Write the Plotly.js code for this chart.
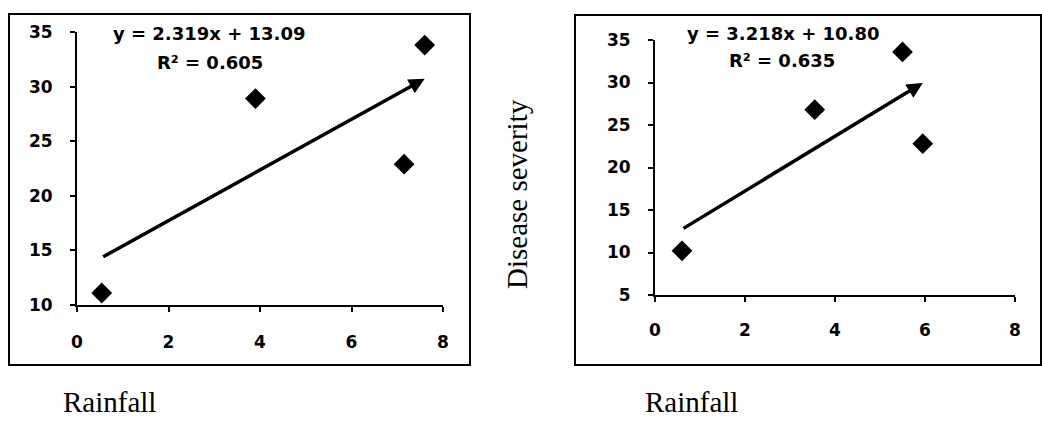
<!DOCTYPE html>
<html>
<head>
<meta charset="utf-8">
<script src="https://cdn.plot.ly/plotly-3.0.1.min.js"></script>
<style>html,body{margin:0;padding:0;background:#fff;}#chart{width:1042px;height:421px;}</style>
</head>
<body>
<div id="chart"></div>
<script>
// ---- data ----
const rainfallLeft = [0.54, 3.9, 7.15, 7.6];
const severityLeft = [11.1, 28.9, 22.9, 33.8];
const rainfallRight = [0.6, 3.55, 5.5, 5.95];
const severityRight = [10.2, 26.8, 33.6, 22.8];
const slopes = [2.319, 3.218];
const intercepts = [13.09, 10.80];
const r2Values = ['0.605', '0.635'];
const xTickVals = [0, 2, 4, 6, 8];
const yTickValsLeft = [10, 15, 20, 25, 30, 35];
const yTickValsRight = [5, 10, 15, 20, 25, 30, 35];
const xLabel = 'Rainfall';
const yLabel = 'Disease severity';

const W = 1042, H = 421;
const px = v => v / W;
const py = v => 1 - v / H;
const bold = v => '<b>' + v + '</b>';

const tickFont = {family: 'DejaVu Sans', size: 17, color: '#000'};
const eqFont = {family: 'DejaVu Sans', size: 18, color: '#000'};
const serifFont = {family: 'Liberation Serif', size: 29, color: '#000'};

function axisBase(vals, extra) {
  return Object.assign({
    showline: true, linecolor: '#000', linewidth: 2,
    ticks: 'outside', ticklen: 5, tickwidth: 2, tickcolor: '#000',
    showgrid: false, zeroline: false, tickfont: tickFont,
    tickmode: 'array', tickvals: vals, ticktext: vals.map(bold),
    fixedrange: true
  }, extra);
}

const markerStyle = {symbol: 'diamond', size: 16, color: '#000'};

const traces = [
  {x: rainfallLeft, y: severityLeft, xaxis: 'x', yaxis: 'y', mode: 'markers',
   type: 'scatter', marker: markerStyle, cliponaxis: false, showlegend: false},
  {x: rainfallRight, y: severityRight, xaxis: 'x2', yaxis: 'y2', mode: 'markers',
   type: 'scatter', marker: markerStyle, cliponaxis: false, showlegend: false}
];

function fitArrow(xs, slope, intercept, xref, yref) {
  const x0 = Math.min(...xs), x1 = Math.max(...xs);
  return {
    x: x1, y: intercept + slope * x1,
    ax: x0, ay: intercept + slope * x0,
    xref: xref, yref: yref, axref: xref, ayref: yref,
    text: '', showarrow: true, arrowhead: 2, arrowsize: 0.9,
    arrowwidth: 3.5, arrowcolor: '#000'
  };
}

function label(text, x, y, font, extra) {
  return Object.assign({text: text, x: px(x), y: py(y), xref: 'paper', yref: 'paper',
    xanchor: 'center', yanchor: 'middle', showarrow: false, font: font}, extra || {});
}

const annotations = [
  fitArrow(rainfallLeft, slopes[0], intercepts[0], 'x', 'y'),
  fitArrow(rainfallRight, slopes[1], intercepts[1], 'x2', 'y2'),
  label(bold('y = ' + slopes[0].toFixed(3) + 'x + ' + intercepts[0].toFixed(2)), 209, 33, eqFont),
  label(bold('R² = ' + r2Values[0]), 210, 62, eqFont),
  label(bold('y = ' + slopes[1].toFixed(3) + 'x + ' + intercepts[1].toFixed(2)), 783, 33, eqFont),
  label(bold('R² = ' + r2Values[1]), 782, 60, eqFont),
  label(xLabel, 109, 402, serifFont),
  label(xLabel, 691, 402, serifFont),
  label(yLabel, 517, 194, serifFont, {textangle: -90})
];

const shapes = [
  {type: 'rect', xref: 'paper', yref: 'paper', x0: px(9), x1: px(470), y0: py(365), y1: py(14),
   line: {color: '#000', width: 2}},
  {type: 'rect', xref: 'paper', yref: 'paper', x0: px(575), x1: px(1041), y0: py(365), y1: py(15),
   line: {color: '#000', width: 2}}
];

const layout = {
  width: W, height: H, autosize: false,
  margin: {l: 0, r: 0, t: 0, b: 0, pad: 0},
  paper_bgcolor: '#fff', plot_bgcolor: 'rgba(0,0,0,0)',
  showlegend: false,
  xaxis: axisBase(xTickVals, {domain: [px(77), px(443)], range: [0, 8],
    anchor: 'y', ticklabelstandoff: 16}),
  yaxis: axisBase(yTickValsLeft, {domain: [py(305), py(32)], range: [10, 35],
    anchor: 'x', ticklabelstandoff: 14}),
  xaxis2: axisBase(xTickVals, {domain: [px(655), px(1015)], range: [0, 8],
    anchor: 'y2', ticklabelstandoff: 14}),
  yaxis2: axisBase(yTickValsRight, {domain: [py(295), py(40)], range: [5, 35],
    anchor: 'x2', ticklabelstandoff: 14}),
  annotations: annotations,
  shapes: shapes
};

Plotly.newPlot('chart', traces, layout, {staticPlot: true, displayModeBar: false});
</script>
</body>
</html>
